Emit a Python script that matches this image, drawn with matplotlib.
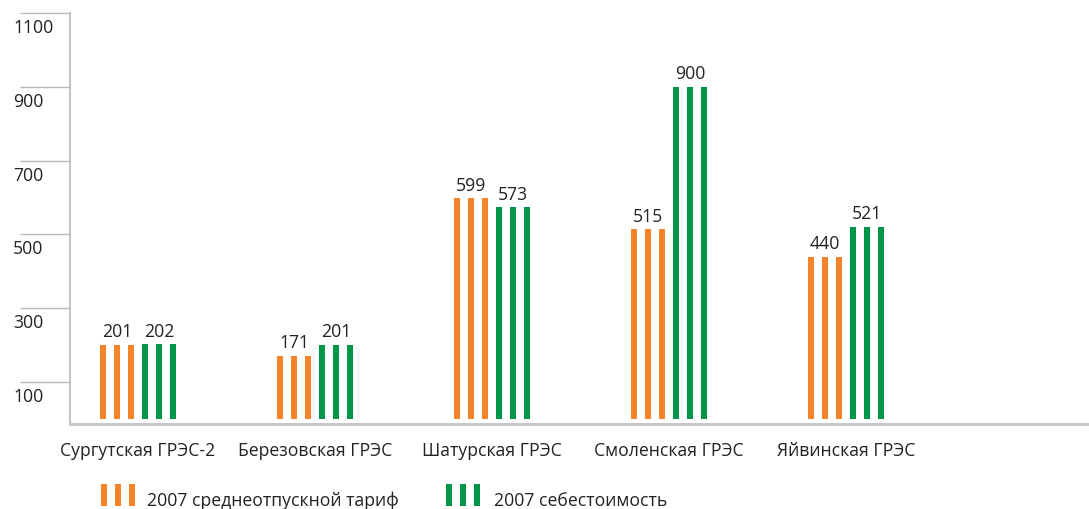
import matplotlib
matplotlib.use("Agg")
import matplotlib.pyplot as plt
from matplotlib.patches import Rectangle
import numpy as np

plt.rcParams['font.family'] = ['Open Sans', 'DejaVu Sans']

stations = ["Сургутская ГРЭС-2", "Березовская ГРЭС", "Шатурская ГРЭС",
            "Смоленская ГРЭС", "Яйвинская ГРЭС"]
tariff = [201, 171, 599, 515, 440]
cost = [202, 201, 573, 900, 521]
series_names = ["2007 среднеотпускной тариф", "2007 себестоимость"]
y_ticks = [100, 300, 500, 700, 900, 1100]

ORANGE = "#F5832A"
GREEN = "#00964A"
GRAY = "#B8B8B8"
TEXT = "#222222"
FS = 12.7

W, H = 1089, 510
fig = plt.figure(figsize=(W / 100, H / 100), dpi=100)
ax = fig.add_axes([70 / W, 85 / H, 1019 / W, 411 / H])

px = 1 / 177.0  # one pixel in x data units (group spacing 177 px)
ax.set_xlim(-68 * px, 951 * px)
ax.set_ylim(-13.8, 1100)

x = np.arange(len(stations))
stripe_w = 5.8 * px
offsets = np.array([-35, -21, -7]) * px
for series, color, shift in [(tariff, ORANGE, 0), (cost, GREEN, 42 * px)]:
    for off in offsets:
        ax.bar(x + off + shift, series, width=stripe_w, color=color, linewidth=0)
    for xi, v in zip(x, series):
        ax.annotate(str(v), (xi - 21 * px + shift, v), xytext=(0, 6),
                    textcoords="offset points", ha="center", va="baseline",
                    fontsize=FS, color=TEXT)

# axes styling
for s in ["top", "right"]:
    ax.spines[s].set_visible(False)
ax.spines["left"].set_color(GRAY)
ax.spines["left"].set_linewidth(1.2)
ax.spines["bottom"].set_color("#C8C8C8")
ax.spines["bottom"].set_linewidth(2.2)

ax.set_yticks(y_ticks)
ax.tick_params(axis="y", length=36, width=1, color=GRAY, labelleft=False)
for t in y_ticks:
    ax.annotate(str(t), (0, t), xycoords=ax.get_yaxis_transform(),
                xytext=(-57 * 0.72, -5 * 0.72), textcoords="offset points",
                ha="left", va="top", fontsize=FS, color=TEXT)

ax.set_xticks(x)
ax.set_xticklabels(stations, fontsize=FS, color=TEXT)
ax.tick_params(axis="x", length=0, pad=12.5)

# legend drawn with stripes, like the bars
legend_items = [(101, 147, ORANGE, series_names[0]), (446, 494, GREEN, series_names[1])]
for x0, tx, color, name in legend_items:
    for k in range(3):
        fig.add_artist(Rectangle(((x0 + 14 * k) / W, (H - 507) / H), 5.8 / W, 22 / H,
                                 transform=fig.transFigure, color=color, linewidth=0))
    fig.text(tx / W, (H - 506) / H, name, ha="left", va="baseline",
             fontsize=FS, color=TEXT)

fig.savefig("out.png", dpi=100)
